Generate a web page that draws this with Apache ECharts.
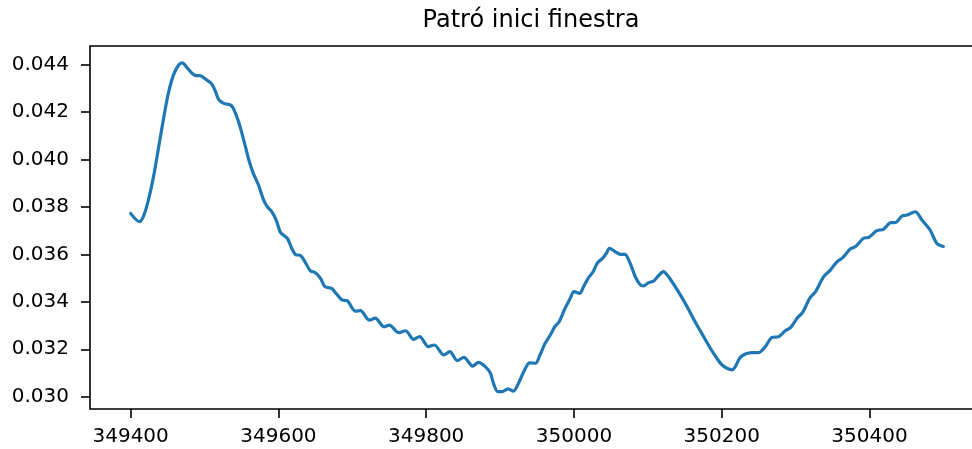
<!DOCTYPE html>
<html>
<head>
<meta charset="utf-8">
<script src="https://cdn.jsdelivr.net/npm/echarts@6/dist/echarts.min.js"></script>
<style>html,body{margin:0;padding:0;background:#fff}#c{width:972px;height:449px}</style>
</head>
<body>
<div id="c"></div>
<script>
const titleText = 'Patró inici finestra';
const xTicks = [349400, 349600, 349800, 350000, 350200, 350400];
const yTicks = [0.030, 0.032, 0.034, 0.036, 0.038, 0.040, 0.042, 0.044];
const xs = [349400,349412,349418,349424,349431,349438,349445,349451,349458,349465,349470,349476,349483,349489,349494,349501,349509,349515,349519,349526,349535,349539,349546,349553,349560,349566,349573,349580,349585,349591,349597,349603,349612,349618,349623,349630,349636,349643,349650,349657,349663,349672,349679,349686,349693,349704,349711,349723,349731,349743,349750,349763,349772,349783,349791,349803,349811,349824,349832,349842,349851,349863,349871,349880,349887,349891,349897,349902,349911,349918,349925,349932,349940,349948,349954,349961,349968,349974,349980,349988,349995,350000,350008,350013,350020,350026,350032,350039,350044,350048,350056,350063,350069,350076,350083,350090,350094,350101,350108,350114,350121,350128,350137,350146,350155,350164,350173,350182,350191,350200,350207,350214,350218,350225,350232,350241,350250,350259,350268,350277,350286,350293,350302,350310,350319,350327,350338,350347,350356,350363,350374,350381,350392,350399,350410,350419,350429,350435,350444,350451,350462,350471,350482,350491,350500];
const ys = [0.03773,0.03738,0.03766,0.03829,0.03928,0.04054,0.04181,0.04279,0.04357,0.04399,0.04408,0.04389,0.04364,0.04354,0.04354,0.0434,0.04322,0.04286,0.04254,0.04237,0.0423,0.04216,0.0416,0.04083,0.03998,0.03942,0.03893,0.03829,0.03801,0.0378,0.03745,0.03692,0.03668,0.03626,0.036,0.03595,0.03569,0.03532,0.03523,0.03499,0.03464,0.03457,0.03432,0.03408,0.03405,0.03361,0.03363,0.03323,0.03331,0.03295,0.03302,0.0327,0.03278,0.03242,0.03253,0.03211,0.03218,0.03176,0.0319,0.03152,0.03166,0.03129,0.03145,0.03127,0.03099,0.03057,0.03021,0.03021,0.03033,0.03023,0.03057,0.03105,0.03143,0.03141,0.03176,0.03225,0.0326,0.03295,0.03316,0.03373,0.03415,0.03443,0.03436,0.03464,0.03503,0.03527,0.03565,0.03584,0.03605,0.03626,0.03611,0.036,0.036,0.03563,0.03506,0.03471,0.03467,0.03481,0.03488,0.03509,0.03527,0.03506,0.03464,0.03419,0.03369,0.03316,0.03267,0.03218,0.03173,0.03135,0.0312,0.03113,0.03125,0.03165,0.0318,0.03186,0.03186,0.03211,0.0325,0.03253,0.03278,0.03291,0.03331,0.03358,0.03415,0.03443,0.03506,0.03534,0.03569,0.03584,0.03623,0.03633,0.03668,0.03672,0.037,0.03706,0.03734,0.03734,0.03762,0.03766,0.0378,0.03745,0.03703,0.03647,0.03633];

const points = xs.map((x, i) => [x, ys[i]]);
const FONT = 'DejaVu Sans';
const chart = echarts.init(document.getElementById('c'), null, {renderer: 'canvas'});
chart.setOption({
  animation: false,
  backgroundColor: '#fff',
  grid: {left: 90, width: 894, top: 46, height: 363, show: true, borderColor: '#000', borderWidth: 1.6, backgroundColor: 'transparent', containLabel: false, outerBoundsMode: 'none'},
  graphic: [{
    type: 'text', x: 531, y: 21, z: 10,
    style: {text: titleText, font: '24px "DejaVu Sans"', fill: '#000', textAlign: 'center', textVerticalAlign: 'middle', verticalAlign: 'middle'}
  }],
  xAxis: {
    type: 'value', min: 349345, max: 350555,
    splitLine: {show: false},
    axisLine: {show: false},
    axisTick: {show: true, length: 9, lineStyle: {color: '#000', width: 1.6}, customValues: xTicks},
    axisLabel: {color: '#000', fontSize: 20, fontFamily: FONT, margin: 18, customValues: xTicks, formatter: v => String(v)}
  },
  yAxis: {
    type: 'value', min: 0.029481, max: 0.044789,
    splitLine: {show: false},
    axisLine: {show: false},
    axisTick: {show: true, length: 9, lineStyle: {color: '#000', width: 1.6}, customValues: yTicks},
    axisLabel: {color: '#000', fontSize: 20, fontFamily: FONT, margin: 21, customValues: yTicks, formatter: v => v.toFixed(3)}
  },
  series: [{
    type: 'line', data: points, showSymbol: false, symbol: 'none', smooth: 0.3,
    lineStyle: {color: '#1f77b4', width: 3.2, join: 'round', cap: 'round'},
    itemStyle: {color: '#1f77b4'}
  }]
});
</script>
</body>
</html>
